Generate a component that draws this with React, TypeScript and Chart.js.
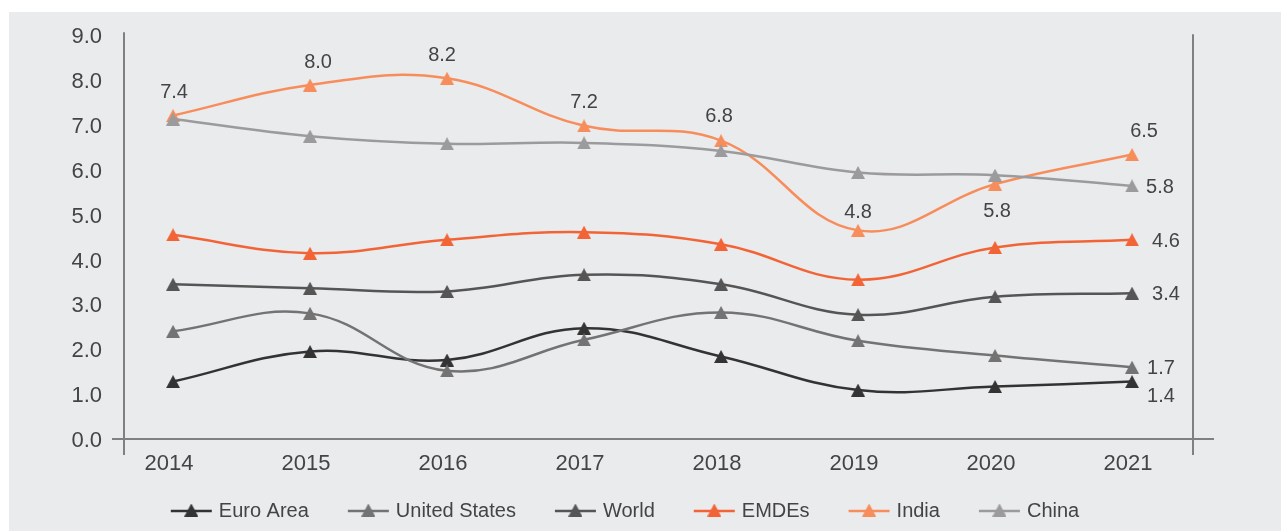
import React, { useEffect, useRef } from "react";
import { Chart, registerables } from "chart.js";

Chart.register(...registerables);

// ---------- data ----------
const years = [2014, 2015, 2016, 2017, 2018, 2019, 2020, 2021];
const yearLabels = ["2014", "2015", "2016", "2017", "2018", "2019", "2020", "2021"];
const yTickLabels = ["0.0", "1.0", "2.0", "3.0", "4.0", "5.0", "6.0", "7.0", "8.0", "9.0"];

const seriesNames = ["Euro Area", "United States", "World", "EMDEs", "India", "China"];
const euroArea = [1.28, 1.95, 1.76, 2.47, 1.84, 1.09, 1.17, 1.28];
const unitedStates = [2.4, 2.8, 1.52, 2.21, 2.82, 2.19, 1.86, 1.6];
const world = [3.45, 3.36, 3.29, 3.66, 3.45, 2.77, 3.17, 3.25];
const emdes = [4.55, 4.14, 4.44, 4.61, 4.34, 3.55, 4.27, 4.44];
const india = [7.21, 7.89, 8.04, 6.98, 6.65, 4.65, 5.68, 6.34];
const china = [7.13, 6.75, 6.58, 6.6, 6.42, 5.94, 5.88, 5.64];

// printed value labels
const indiaLabels = ["7.4", "8.0", "8.2", "7.2", "6.8", "4.8", "5.8", "6.5"];
const endLabels = ["1.4", "1.7", "3.4", "4.6", "", "5.8"];

// ---------- styles ----------
const seriesColors = ["#333333", "#737373", "#555555", "#F26436", "#F88D5C", "#9B9B9D"];
const FONT = '"Liberation Sans", Arial, Helvetica, sans-serif';
const TEXT_COLOR = "#444444";
const AXIS_COLOR = "#808080";

// label placement (pixels relative to the point)
const indiaLabelOffsets: [number, number][] = [
  [1, -24.5], [8, -24.5], [-5, -24.5], [0, -24.5], [-2, -25.5], [0, -20], [2, 26], [12, -25],
];
const endLabelOffsets: [number, number][] = [
  [15, 13], [15, 0], [20, 0], [20, 0], [0, 0], [14, 0],
];

function makeTriangle(color: string): HTMLCanvasElement {
  const c = document.createElement("canvas");
  c.width = 14;
  c.height = 13;
  const g = c.getContext("2d")!;
  g.fillStyle = color;
  g.beginPath();
  g.moveTo(7, 0);
  g.lineTo(14, 13);
  g.lineTo(0, 13);
  g.closePath();
  g.fill();
  return c;
}

const axesPlugin = {
  id: "axesLines",
  beforeDatasetsDraw(chart: any) {
    const { ctx, chartArea } = chart;
    const y0 = chart.scales.y.getPixelForValue(0);
    ctx.save();
    ctx.strokeStyle = AXIS_COLOR;
    ctx.lineWidth = 2;
    ctx.beginPath();
    ctx.moveTo(chartArea.left, chartArea.top - 3);
    ctx.lineTo(chartArea.left, y0 + 16);
    ctx.moveTo(chartArea.right, chartArea.top - 1);
    ctx.lineTo(chartArea.right, y0 + 16);
    ctx.moveTo(chartArea.left - 12, y0);
    ctx.lineTo(chartArea.right + 21, y0);
    ctx.stroke();
    ctx.restore();
  },
};

const labelsPlugin = {
  id: "valueLabels",
  afterDatasetsDraw(chart: any) {
    const ctx = chart.ctx;
    const fs = 20;
    ctx.save();
    ctx.font = `${fs}px ${FONT}`;
    ctx.fillStyle = TEXT_COLOR;
    ctx.textBaseline = "alphabetic";
    const indiaMeta = chart.getDatasetMeta(4);
    indiaMeta.data.forEach((pt: any, i: number) => {
      const [dx, dy] = indiaLabelOffsets[i];
      ctx.textAlign = "center";
      ctx.fillText(indiaLabels[i], pt.x + dx, pt.y + dy + fs * 0.358);
    });
    endLabels.forEach((lab, di) => {
      if (!lab) return;
      const meta = chart.getDatasetMeta(di);
      const pt = meta.data[meta.data.length - 1];
      const [dx, dy] = endLabelOffsets[di];
      ctx.textAlign = "left";
      ctx.fillText(lab, pt.x + dx, pt.y + dy + fs * 0.358);
    });
    ctx.restore();
  },
};

const legendPlugin = {
  id: "customLegend",
  afterDraw(chart: any) {
    const ctx = chart.ctx;
    const fs = 20;
    const lineW = 41;
    const gapText = 7;
    const gapItem = 39;
    const y = 510;
    ctx.save();
    ctx.font = `${fs}px ${FONT}`;
    const widths = chart.data.datasets.map((d: any) => ctx.measureText(d.label).width);
    const total =
      widths.reduce((a: number, b: number) => a + b + lineW + gapText, 0) +
      gapItem * (widths.length - 1);
    let x = 625 - total / 2;
    chart.data.datasets.forEach((d: any, i: number) => {
      ctx.strokeStyle = d.borderColor;
      ctx.lineWidth = 2.5;
      ctx.beginPath();
      ctx.moveTo(x, y + 1);
      ctx.lineTo(x + lineW, y + 1);
      ctx.stroke();
      const tri = d.pointStyle as HTMLCanvasElement;
      ctx.drawImage(tri, x + lineW / 2 - tri.width / 2, y - tri.height / 2);
      ctx.fillStyle = TEXT_COLOR;
      ctx.textAlign = "left";
      ctx.textBaseline = "alphabetic";
      ctx.fillText(d.label, x + lineW + gapText, y + fs * 0.358);
      x += lineW + gapText + widths[i] + gapItem;
    });
    ctx.restore();
  },
};

export default function App() {
  const ref = useRef<HTMLCanvasElement | null>(null);

  useEffect(() => {
    if (!ref.current) return;
    const seriesValues = [euroArea, unitedStates, world, emdes, india, china];
    const datasets = seriesNames.map((name, i) => ({
      label: name,
      data: years.map((yr, k) => ({ x: yr, y: seriesValues[i][k] })),
      borderColor: seriesColors[i],
      backgroundColor: seriesColors[i],
      borderWidth: 2.5,
      tension: 0.4,
      pointStyle: makeTriangle(seriesColors[i]),
      pointRadius: 7,
      order: seriesNames.length - i,
    }));

    const chart = new Chart(ref.current, {
      type: "line",
      data: { datasets },
      plugins: [axesPlugin, labelsPlugin, legendPlugin],
      options: {
        responsive: false,
        animation: false,
        events: [],
        layout: { padding: { left: 64, right: 88, top: 35, bottom: 0 } },
        plugins: {
          legend: { display: false },
          tooltip: { enabled: false },
        },
        scales: {
          x: {
            type: "linear",
            min: 2013.642,
            max: 2021.445,
            grid: { display: false, drawTicks: false },
            border: { display: false },
            ticks: {
              stepSize: 1,
              includeBounds: false,
              autoSkip: false,
              maxRotation: 0,
              padding: 12,
              labelOffset: -4,
              color: TEXT_COLOR,
              font: { family: FONT, size: 22 },
              callback: (v: any) => {
                const idx = years.indexOf(Number(v));
                return idx >= 0 ? yearLabels[idx] : "";
              },
            },
            afterFit: (s: any) => {
              s.height = 92;
            },
          },
          y: {
            min: 0,
            max: 9,
            grid: { display: false, drawTicks: false },
            border: { display: false },
            ticks: {
              stepSize: 1,
              padding: 22,
              labelOffset: 2,
              color: TEXT_COLOR,
              font: { family: FONT, size: 22 },
              callback: (v: any) => yTickLabels[Math.round(Number(v))],
            },
            afterFit: (s: any) => {
              s.width = 60;
            },
          },
        },
      },
    } as any);
    return () => chart.destroy();
  }, []);

  return (
    <div style={{ position: "fixed", left: 0, top: 0, width: 1281, height: 531, background: "#ffffff" }}>
      <div style={{ position: "absolute", left: 9, top: 12, right: 0, bottom: 0, background: "#EAEBED" }} />
      <canvas
        ref={ref}
        width={1281}
        height={531}
        style={{ position: "absolute", left: 0, top: 0, width: 1281, height: 531 }}
      />
    </div>
  );
}
